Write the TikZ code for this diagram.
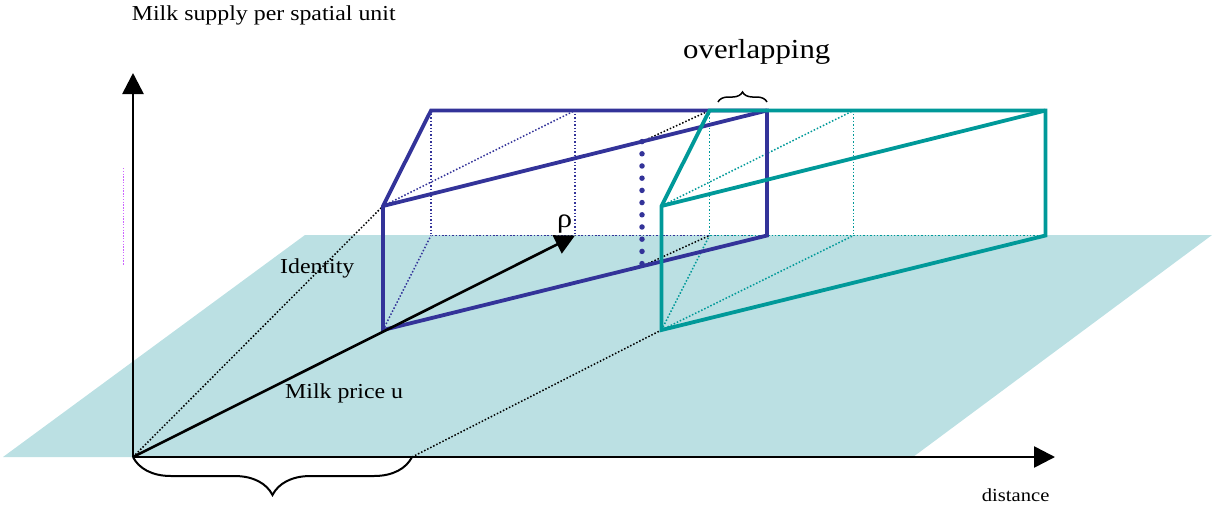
\documentclass[tikz,border=0pt]{standalone}
\usepackage{fontspec}
\setmainfont{Liberation Serif}[FakeStretch=1.12]
\usetikzlibrary{arrows.meta,decorations.pathreplacing,calc}
\definecolor{navyc}{RGB}{51,51,153}
\definecolor{tealc}{RGB}{0,153,153}
\definecolor{planec}{RGB}{187,224,227}
\definecolor{pinkc}{RGB}{204,102,255}
\begin{document}
\begin{tikzpicture}[x=1pt,y=-1pt,
  thindots/.style={line width=1.5pt, dash pattern=on 1.5pt off 1.9pt},
  thickline/.style={line width=3.8pt},
  lbl/.style={inner sep=0pt, anchor=base west, font=\fontsize{21.3}{25}\selectfont},
  axisline/.style={line width=2.6pt, -{Triangle[length=21pt,width=21pt]}},
  bracestyle/.style={decorate, line width=2pt}]
\useasboundingbox (0,0) rectangle (1212,507);
% plane
\fill[planec] (3,457) -- (305,235) -- (1212,235) -- (913,457) -- cycle;
% pink dotted mark
\coordinate (pk1) at (123.3,168);
\coordinate (pk2) at (123.3,265);
\draw[pinkc, line width=1.4pt, dash pattern=on 1.4pt off 1.4pt] (pk1) -- (pk2);
% key points
\coordinate (O) at (133,457);
\coordinate (O2) at (412,457);
\coordinate (Ytip) at (133,73);
\coordinate (Xtip) at (1055,457);
% blue box
\coordinate (A) at (383,330);
\coordinate (B) at (383,206);
\coordinate (C) at (431,110.5);
\coordinate (D) at (767,110.5);
\coordinate (E) at (767,235.5);
\coordinate (F) at (431,235.5);
\coordinate (G) at (575,110.5);
\coordinate (H) at (575,235.5);
% teal box
\coordinate (A2) at (661.5,330);
\coordinate (B2) at (661.5,206);
\coordinate (C2) at (709.5,110.5);
\coordinate (D2) at (1045.5,110.5);
\coordinate (E2) at (1045.5,235.5);
\coordinate (F2) at (709.5,235.5);
\coordinate (G2) at (853.5,110.5);
\coordinate (H2) at (853.5,235.5);
% column points
\coordinate (P1) at ($(B)!0.6745!(D)$);
\coordinate (P2) at ($(A)!0.6745!(E)$);
% black dotted lines
\draw[black, thindots] (O) -- (B);
\draw[black, thindots] (O2) -- (A2);
\draw[black, thindots] (P1) -- (C2);
\draw[black, thindots] (P2) -- (F2);
% blue dotted hidden lines
\draw[navyc, thindots] (C) -- (F) -- (E);
\draw[navyc, thindots] (G) -- (H);
\draw[navyc, thindots] (B) -- (G);
\draw[navyc, thindots] (A) -- (F);
% teal dotted hidden lines
\draw[tealc, thindots] (C2) -- (F2) -- (E2);
\draw[tealc, thindots] (G2) -- (H2);
\draw[tealc, thindots] (B2) -- (G2);
\draw[tealc, thindots] (A2) -- (F2);
\draw[tealc, thindots] (A2) -- (H2);
% blue box solid
\draw[navyc, thickline] (A) -- (B) -- (C) -- (D) -- (E) -- cycle;
\draw[navyc, thickline] (B) -- (D);
% dotted column
\draw[navyc, line width=5.5pt, line cap=round, dash pattern=on 0pt off 12.2pt] (P1) -- (P2);
% teal box solid
\draw[tealc, thickline] (A2) -- (B2) -- (C2) -- (D2) -- (E2) -- cycle;
\draw[tealc, thickline] (B2) -- (D2);
% milk price arrow
\draw[line width=2.6pt, -{Triangle[length=20pt,width=20pt]}] (O) -- (H);
% axes
\draw[axisline] (O) -- (Ytip);
\draw[axisline] (O) -- (Xtip);
% braces
\draw[bracestyle, decoration={brace, amplitude=38pt}] (O2) -- (O);
\coordinate (ov1) at (718,102);
\coordinate (ov2) at (767,102);
\draw[decorate, line width=1.5pt, decoration={brace, amplitude=10pt}] (ov1) -- (ov2);
% labels
\node[lbl] (ylab) at (131.7,20) {Milk supply per spatial unit};
\node[lbl] (idl) at (280,273.3) {Identity};
\node[lbl] (mpl) at (285,398.3) {Milk price u};
\node[lbl, font=\fontsize{18.4}{22}\selectfont] (dl) at (981.7,501.7) {distance};
\node[lbl, font=\fontsize{27.5}{32}\selectfont] (ovl) at (683,58.3) {overlapping};
\node[lbl, font=\fontsize{27}{31}\selectfont] (rho) at (557,227) {ρ};
\end{tikzpicture}
\end{document}
